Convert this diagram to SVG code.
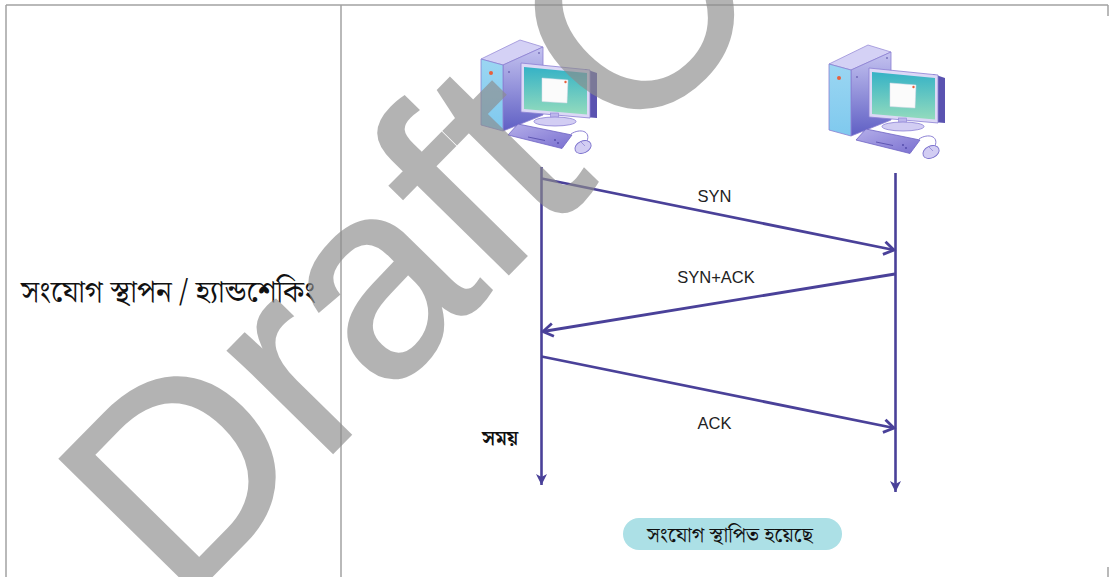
<svg xmlns="http://www.w3.org/2000/svg" xmlns:xlink="http://www.w3.org/1999/xlink" width="1111" height="577" viewBox="0 0 1111 577">
  <style>
    .grid { stroke: #a2a2a2; stroke-width: 1.5; fill: none; }
    .life { stroke: #4a4199; stroke-width: 2.6; fill: none; }
    .msg { stroke: #4a4199; stroke-width: 2.8; fill: none; }
    .lbl { font-family: "Liberation Sans", Arial, sans-serif; font-size: 16.5px; fill: #222; text-anchor: middle; }
    .bn { font-family: "Noto Serif Bengali", "Noto Sans Bengali", "Lohit Bengali", "Noto Sans", sans-serif; fill: #111; }
    .wm { font-family: "Liberation Sans", Arial, sans-serif; font-size: 276px; fill: #8c8c8c; stroke: #8c8c8c; stroke-width: 3; }
  </style>
  <defs>
    <marker id="head-solid" markerUnits="userSpaceOnUse" viewBox="0 0 12 12" refX="11" refY="6" markerWidth="12" markerHeight="12" orient="auto">
      <path d="M0,0.5 L11,6 L0,11.5 L3,6 Z" fill="#4a4199"/>
    </marker>
    <marker id="head-open" markerUnits="userSpaceOnUse" viewBox="0 0 16 16" refX="13" refY="8" markerWidth="16" markerHeight="16" orient="auto">
      <path d="M3,1.5 L13,8 L3,14.5" fill="none" stroke="#4a4199" stroke-width="2.8" stroke-linejoin="miter"/>
    </marker>
    <linearGradient id="screen" x1="0" y1="0" x2="0" y2="1">
      <stop offset="0" stop-color="#35b2c6"/>
      <stop offset="1" stop-color="#93dbbd"/>
    </linearGradient>
    <linearGradient id="front" x1="0" y1="0" x2="0" y2="1">
      <stop offset="0" stop-color="#9bd6f2"/>
      <stop offset="1" stop-color="#7fc9ee"/>
    </linearGradient>
    <linearGradient id="side" x1="0" y1="0" x2="0" y2="1">
      <stop offset="0" stop-color="#c5c3f0"/>
      <stop offset="1" stop-color="#5f5fc4"/>
    </linearGradient>
    <linearGradient id="keys" x1="0" y1="0" x2="1" y2="1">
      <stop offset="0" stop-color="#b4aee9"/>
      <stop offset="1" stop-color="#7a70d0"/>
    </linearGradient>
    <!-- desktop computer: tower, monitor, keyboard, mouse -->
    <g id="pc">
      <polygon points="481,59 503,65 543,47 520,40" fill="#d4d1f5" stroke="#9a8fd8" stroke-width="0.8"/>
      <polygon points="503,65 543,47 543,115 503,131" fill="url(#side)" stroke="#8a7fd2" stroke-width="0.8"/>
      <polygon points="481,59 503,65 503,131 481,125" fill="url(#front)" stroke="#8a7fd2" stroke-width="0.8"/>
      <circle cx="491" cy="73" r="2" fill="#e8603c"/>
      <circle cx="509" cy="72" r="0.8" fill="#4a4199"/>
      <circle cx="539" cy="53" r="0.8" fill="#4a4199"/>
      <polygon points="585,69 597,73 597,118 585,117" fill="#5a53b0"/>
      <polygon points="521,63 590,70 590,118 521,112" fill="#dcd8f6" stroke="#8c80d4" stroke-width="0.8"/>
      <polygon points="524,67 587,73 587,114.5 524,109" fill="url(#screen)"/>
      <polygon points="542,78 568,80 567,103 542,101.5" fill="#fbfbfb" stroke="#d8d8e8" stroke-width="0.5"/>
      <circle cx="565.5" cy="82" r="1.2" fill="#e8603c"/>
      <rect x="550.5" y="113" width="8" height="9" fill="#bdb7ec" stroke="#8c80d4" stroke-width="0.6"/>
      <ellipse cx="555" cy="121.5" rx="21" ry="4.5" fill="#d2cdf3" stroke="#8c80d4" stroke-width="0.8"/>
      <polygon points="518,124 572,135 562,148.5 508,135" fill="url(#keys)" stroke="#6e63c4" stroke-width="0.8"/>
      <line x1="528" y1="137" x2="545" y2="140.5" stroke="#5048a8" stroke-width="0.8"/>
      <circle cx="555" cy="140" r="0.9" fill="#5048a8"/>
      <circle cx="558" cy="143" r="0.9" fill="#5048a8"/>
      <path d="M571,134 C580,128 591,131 587,141" fill="none" stroke="#8c80d4" stroke-width="1"/>
      <ellipse cx="583" cy="147" rx="8.5" ry="6" transform="rotate(-25 583 147)" fill="#d2cdf3" stroke="#7a70cc" stroke-width="0.9"/>
      <line x1="581" y1="142" x2="585" y2="146" stroke="#7a70cc" stroke-width="0.6"/>
    </g>
  </defs>

  <!-- table frame -->
  <g id="table">
    <line class="grid" x1="6" y1="5" x2="1108" y2="5"/>
    <line class="grid" x1="6" y1="5" x2="6" y2="577"/>
    <line class="grid" x1="341" y1="5" x2="341" y2="577"/>
    <line class="grid" x1="1108" y1="5" x2="1108" y2="16"/>
    <line class="grid" x1="1108" y1="567" x2="1108" y2="577"/>
  </g>

  <g id="row-title">
    <text class="bn" x="21" y="302" font-size="30">সংযোগ স্থাপন / হ্যান্ডশেকিং</text>
  </g>

  <g id="client"><use xlink:href="#pc" href="#pc"/></g>
  <g id="server"><use xlink:href="#pc" href="#pc" transform="translate(348,5)"/></g>

  <g id="connectors">
    <path class="life" d="M541.5,167 V485" marker-end="url(#head-solid)"/>
    <path class="life" d="M895.5,173 V492" marker-end="url(#head-solid)"/>
    <path class="msg" d="M541.5,178.5 L894,250" marker-end="url(#head-open)"/>
    <path class="msg" d="M895,274 L543,331.5" marker-end="url(#head-open)"/>
    <path class="msg" d="M541.5,356.5 L894,428" marker-end="url(#head-open)"/>
  </g>

  <g id="labels">
    <text class="lbl" x="714.5" y="202">SYN</text>
    <text class="lbl" x="716" y="282.5">SYN+ACK</text>
    <text class="lbl" x="714.5" y="429">ACK</text>
    <text class="bn" x="482" y="445" font-size="20" font-weight="bold">সময়</text>
  </g>

  <g id="status">
    <rect x="623" y="518" width="219" height="32" rx="16" fill="#ace0e6"/>
    <text class="bn" x="730" y="541.5" font-size="21" text-anchor="middle">সংযোগ স্থাপিত হয়েছে</text>
  </g>

  <!-- draft stamp across the sheet -->
  <g id="watermark" opacity="0.65">
    <text class="wm" transform="translate(180,608) rotate(-45.5)">Draft<tspan dx="-35"> C</tspan></text>
  </g>
</svg>
